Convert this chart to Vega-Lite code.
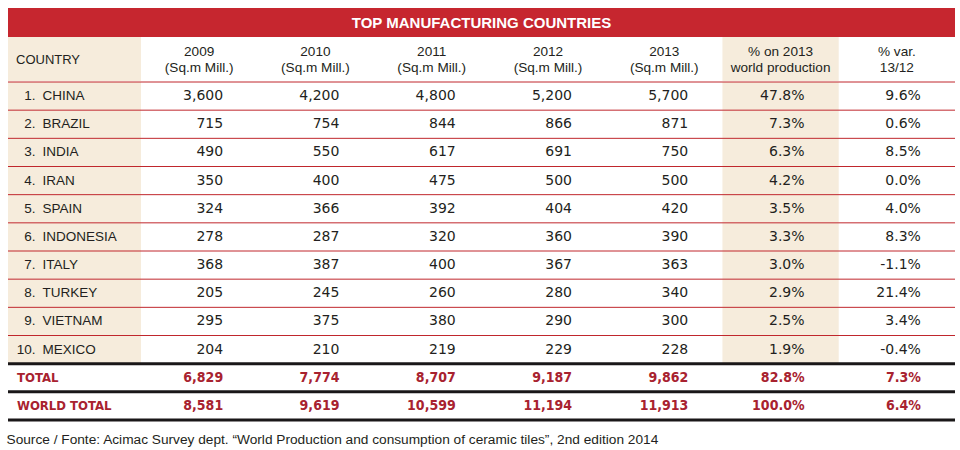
{
  "$schema": "https://vega.github.io/schema/vega-lite/v6.json",
  "padding": {"left": 6, "top": 8, "right": 6, "bottom": 0},
  "background": "white",
  "title": {
    "text": "Source / Fonte: Acimac Survey dept. “World Production and consumption of ceramic tiles”, 2nd edition 2014",
    "orient": "bottom",
    "anchor": "start",
    "font": "Liberation Sans",
    "fontSize": 13.7,
    "fontWeight": "normal",
    "color": "#231f20",
    "offset": 11
  },
  "config": {
    "view": {"stroke": null},
    "axis": {"disable": true},
    "concat": {"spacing": 0},
    "scale": {"bandPaddingInner": 0, "bandPaddingOuter": 0},
    "locale": {"number": {"decimal": ".", "thousands": ",", "grouping": [3], "currency": ["$", ""], "minus": "-"}}
  },
  "datasets": {
    "table": [
      {"rank": "1.", "country": "CHINA", "y2009": 3600, "y2010": 4200, "y2011": 4800, "y2012": 5200, "y2013": 5700, "share": 0.478, "change": 0.096},
      {"rank": "2.", "country": "BRAZIL", "y2009": 715, "y2010": 754, "y2011": 844, "y2012": 866, "y2013": 871, "share": 0.073, "change": 0.006},
      {"rank": "3.", "country": "INDIA", "y2009": 490, "y2010": 550, "y2011": 617, "y2012": 691, "y2013": 750, "share": 0.063, "change": 0.085},
      {"rank": "4.", "country": "IRAN", "y2009": 350, "y2010": 400, "y2011": 475, "y2012": 500, "y2013": 500, "share": 0.042, "change": 0.0},
      {"rank": "5.", "country": "SPAIN", "y2009": 324, "y2010": 366, "y2011": 392, "y2012": 404, "y2013": 420, "share": 0.035, "change": 0.04},
      {"rank": "6.", "country": "INDONESIA", "y2009": 278, "y2010": 287, "y2011": 320, "y2012": 360, "y2013": 390, "share": 0.033, "change": 0.083},
      {"rank": "7.", "country": "ITALY", "y2009": 368, "y2010": 387, "y2011": 400, "y2012": 367, "y2013": 363, "share": 0.03, "change": -0.011},
      {"rank": "8.", "country": "TURKEY", "y2009": 205, "y2010": 245, "y2011": 260, "y2012": 280, "y2013": 340, "share": 0.029, "change": 0.214},
      {"rank": "9.", "country": "VIETNAM", "y2009": 295, "y2010": 375, "y2011": 380, "y2012": 290, "y2013": 300, "share": 0.025, "change": 0.034},
      {"rank": "10.", "country": "MEXICO", "y2009": 204, "y2010": 210, "y2011": 219, "y2012": 229, "y2013": 228, "share": 0.019, "change": -0.004},
      {"rank": null, "country": "TOTAL", "y2009": 6829, "y2010": 7774, "y2011": 8707, "y2012": 9187, "y2013": 9862, "share": 0.828, "change": 0.073},
      {"rank": null, "country": "WORLD TOTAL", "y2009": 8581, "y2010": 9619, "y2011": 10599, "y2012": 11194, "y2013": 11913, "share": 1.0, "change": 0.064}
    ],
    "headers": [
      {"col": "y2009", "label": ["2009", "(Sq.m Mill.)"]},
      {"col": "y2010", "label": ["2010", "(Sq.m Mill.)"]},
      {"col": "y2011", "label": ["2011", "(Sq.m Mill.)"]},
      {"col": "y2012", "label": ["2012", "(Sq.m Mill.)"]},
      {"col": "y2013", "label": ["2013", "(Sq.m Mill.)"]},
      {"col": "share", "label": ["% on 2013", "world production"]},
      {"col": "change", "label": ["% var.", "13/12"]}
    ]
  },
  "vconcat": [
    {
      "width": 947,
      "height": 29,
      "view": {"fill": "#c6262f", "stroke": null},
      "data": {"values": [{"title": "TOP MANUFACTURING COUNTRIES"}]},
      "mark": {"type": "text", "font": "Liberation Sans", "fontSize": 15, "fontWeight": "bold", "color": "#ffffff", "baseline": "middle", "align": "center"},
      "encoding": {"text": {"field": "title", "type": "nominal"}}
    },
    {
      "hconcat": [
        {
          "width": 133,
          "height": 44,
          "view": {"fill": "#f6ecdc", "stroke": null},
          "data": {"values": [{"label": "COUNTRY"}]},
          "mark": {"type": "text", "font": "Liberation Sans", "fontSize": 13, "color": "#231f20", "align": "left", "baseline": "middle", "dx": -58.5, "dy": 1},
          "encoding": {"text": {"field": "label", "type": "nominal"}}
        },
        {
          "width": 814,
          "height": 44,
          "data": {"name": "headers"},
          "encoding": {
            "x": {"field": "col", "type": "nominal", "axis": null,
                  "scale": {"domain": ["y2009", "y2010", "y2011", "y2012", "y2013", "share", "change"], "paddingInner": 0, "paddingOuter": 0}}
          },
          "layer": [
            {
              "transform": [{"filter": "datum.col == 'share'"}],
              "mark": {"type": "rect", "color": "#f6ecdc"}
            },
            {
              "mark": {"type": "text", "font": "Liberation Sans", "fontSize": 13.6, "color": "#231f20", "align": "center", "baseline": "middle", "lineHeight": 15.5, "dy": -7},
              "encoding": {"text": {"field": "label", "type": "nominal"}}
            }
          ]
        }
      ],
      "spacing": 0,
      "bounds": "flush"
    },
    {
      "hconcat": [
        {
          "width": 133,
          "height": 338,
          "data": {"name": "table"},
          "encoding": {
            "y": {"field": "country", "type": "nominal", "axis": null,
                  "scale": {"domain": ["CHINA", "BRAZIL", "INDIA", "IRAN", "SPAIN", "INDONESIA", "ITALY", "TURKEY", "VIETNAM", "MEXICO", "TOTAL", "WORLD TOTAL"], "paddingInner": 0, "paddingOuter": 0}}
          },
          "layer": [
            {
              "transform": [{"filter": "isValid(datum.rank)"}],
              "mark": {"type": "rect", "color": "#f6ecdc"}
            },
            {
              "transform": [{"filter": "isValid(datum.rank)"}],
              "mark": {"type": "rule", "color": "#c0272d", "strokeWidth": 1},
              "encoding": {"y": {"field": "country", "type": "nominal", "bandPosition": 0}}
            },
            {
              "transform": [{"filter": "!isValid(datum.rank)"}],
              "mark": {"type": "rule", "color": "#1a1718", "strokeWidth": 3},
              "encoding": {"y": {"field": "country", "type": "nominal", "bandPosition": 0}}
            },
            {
              "transform": [{"filter": "datum.country == 'WORLD TOTAL'"}],
              "mark": {"type": "rule", "color": "#1a1718", "strokeWidth": 3},
              "encoding": {"y": {"field": "country", "type": "nominal", "bandPosition": 1}}
            },
            {
              "transform": [{"filter": "isValid(datum.rank)"}],
              "mark": {"type": "text", "font": "Liberation Sans", "fontSize": 13.5, "color": "#231f20", "align": "right", "baseline": "middle", "dx": -39},
              "encoding": {"text": {"field": "rank", "type": "nominal"}}
            },
            {
              "transform": [{"filter": "isValid(datum.rank)"}],
              "mark": {"type": "text", "font": "Liberation Sans", "fontSize": 13.5, "color": "#231f20", "align": "left", "baseline": "middle", "dx": -32},
              "encoding": {"text": {"field": "country", "type": "nominal"}}
            },
            {
              "transform": [{"filter": "!isValid(datum.rank)"}],
              "mark": {"type": "text", "font": "DejaVu Sans Condensed, DejaVu Sans", "fontSize": 13, "fontWeight": "bold", "color": "#a8222f", "align": "left", "baseline": "middle", "dx": -57.5},
              "encoding": {"text": {"field": "country", "type": "nominal"}}
            }
          ]
        },
        {
          "width": 814,
          "height": 338,
          "data": {"name": "table"},
          "encoding": {
            "y": {"field": "country", "type": "nominal", "axis": null,
                  "scale": {"domain": ["CHINA", "BRAZIL", "INDIA", "IRAN", "SPAIN", "INDONESIA", "ITALY", "TURKEY", "VIETNAM", "MEXICO", "TOTAL", "WORLD TOTAL"], "paddingInner": 0, "paddingOuter": 0}}
          },
          "layer": [
            {
              "transform": [{"filter": "isValid(datum.rank)"}],
              "mark": {"type": "rect", "color": "#f6ecdc"},
              "encoding": {
                "x": {"datum": "share", "type": "nominal", "axis": null,
                      "scale": {"domain": ["y2009", "y2010", "y2011", "y2012", "y2013", "share", "change"], "paddingInner": 0, "paddingOuter": 0}}
              }
            },
            {
              "transform": [{"filter": "isValid(datum.rank)"}],
              "mark": {"type": "rule", "color": "#c0272d", "strokeWidth": 1},
              "encoding": {"y": {"field": "country", "type": "nominal", "bandPosition": 0}}
            },
            {
              "transform": [{"filter": "!isValid(datum.rank)"}],
              "mark": {"type": "rule", "color": "#1a1718", "strokeWidth": 3},
              "encoding": {"y": {"field": "country", "type": "nominal", "bandPosition": 0}}
            },
            {
              "transform": [{"filter": "datum.country == 'WORLD TOTAL'"}],
              "mark": {"type": "rule", "color": "#1a1718", "strokeWidth": 3},
              "encoding": {"y": {"field": "country", "type": "nominal", "bandPosition": 1}}
            },
            {
              "transform": [{"filter": "isValid(datum.rank)"}, {"fold": ["y2009", "y2010", "y2011", "y2012", "y2013"], "as": ["col", "val"]}],
              "mark": {"type": "text", "font": "DejaVu Sans", "fontSize": 14, "color": "#231f20", "align": "right", "baseline": "middle", "dx": 24},
              "encoding": {
                "x": {"field": "col", "type": "nominal", "axis": null},
                "text": {"field": "val", "type": "quantitative", "format": ","}
              }
            },
            {
              "transform": [{"filter": "isValid(datum.rank)"}, {"fold": ["share", "change"], "as": ["col", "val"]}],
              "mark": {"type": "text", "font": "DejaVu Sans", "fontSize": 14, "color": "#231f20", "align": "right", "baseline": "middle", "dx": 24},
              "encoding": {
                "x": {"field": "col", "type": "nominal", "axis": null},
                "text": {"field": "val", "type": "quantitative", "format": ".1%"}
              }
            },
            {
              "transform": [{"filter": "!isValid(datum.rank)"}, {"fold": ["y2009", "y2010", "y2011", "y2012", "y2013"], "as": ["col", "val"]}],
              "mark": {"type": "text", "font": "DejaVu Sans Condensed, DejaVu Sans", "fontSize": 14, "fontWeight": "bold", "color": "#a8222f", "align": "right", "baseline": "middle", "dx": 24},
              "encoding": {
                "x": {"field": "col", "type": "nominal", "axis": null},
                "text": {"field": "val", "type": "quantitative", "format": ","}
              }
            },
            {
              "transform": [{"filter": "!isValid(datum.rank)"}, {"fold": ["share", "change"], "as": ["col", "val"]}],
              "mark": {"type": "text", "font": "DejaVu Sans Condensed, DejaVu Sans", "fontSize": 14, "fontWeight": "bold", "color": "#a8222f", "align": "right", "baseline": "middle", "dx": 24},
              "encoding": {
                "x": {"field": "col", "type": "nominal", "axis": null},
                "text": {"field": "val", "type": "quantitative", "format": ".1%"}
              }
            }
          ]
        }
      ],
      "spacing": 0,
      "bounds": "flush"
    }
  ],
  "spacing": 0
}
